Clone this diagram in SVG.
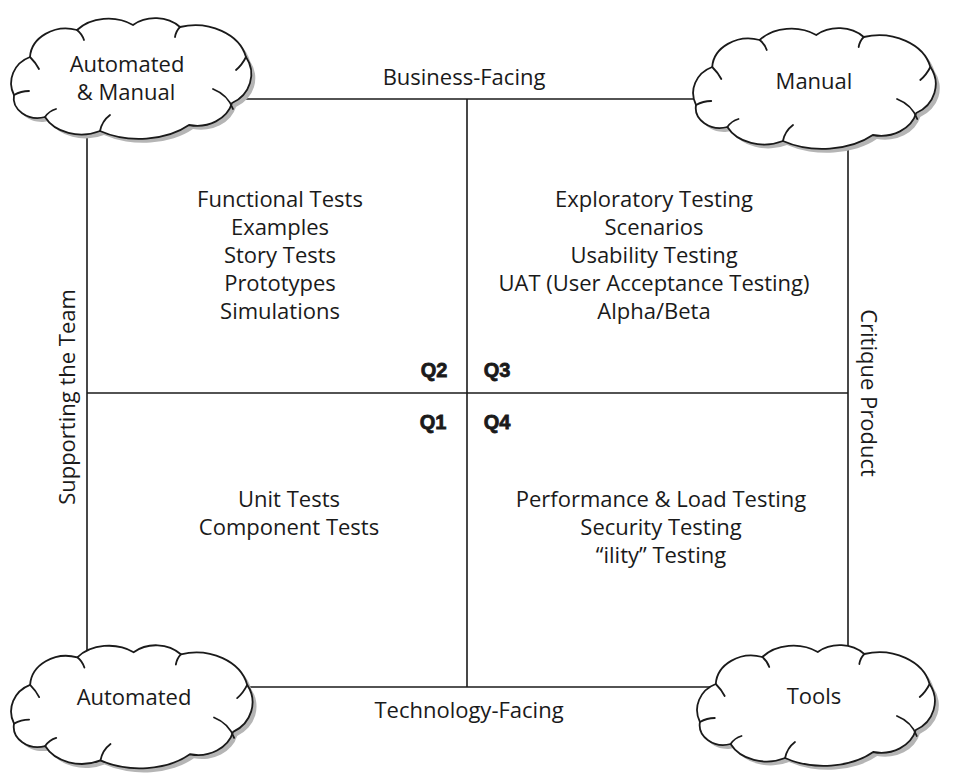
<svg xmlns="http://www.w3.org/2000/svg" width="956" height="778" viewBox="0 0 956 778">
<style>
.ln{stroke:#1a1a1a;stroke-width:1.6;fill:none}
.cl{fill:#fff;stroke:#1a1a1a;stroke-width:1.8;stroke-linejoin:round}
.sh{fill:#b5b5b5}
.im{fill:none;stroke:#1a1a1a;stroke-width:1.8;stroke-linecap:round}
.t{font-family:"Open Sans","Noto Sans",sans-serif;font-size:22px;fill:#1a1a1a;text-anchor:middle}
.q{font-family:"Liberation Sans",Arial,sans-serif;font-weight:900;font-size:20px;fill:#1a1a1a;text-anchor:middle;stroke:#1a1a1a;stroke-width:0.8}
</style>
<defs>
<path id="cloudP" d="M22,44 A36 30 0 0 1 69,17 A40 30 0 0 1 125,12 A34 28 0 0 1 172,14 A52 40 0 0 1 238,44 A34 32 0 0 1 224,90 A36 30 0 0 1 181,112 A66 40 0 0 1 92,118 A40 30 0 0 1 37,104 A24 20 0 0 1 6,82 A30 28 0 0 1 22,44 Z"/>
<g id="cloud">
<use href="#cloudP" class="sh" transform="translate(4,4)"/>
<use href="#cloudP" class="cl"/>
<path class="im" d="M22,44 Q28,50 31,56"/>
<path class="im" d="M69,17 Q74,21 76,27"/>
<path class="im" d="M172,14 Q168,18 167,24"/>
<path class="im" d="M238,44 Q234,52 228,57"/>
<path class="im" d="M205,76 Q220,82 225,96"/>
<path class="im" d="M92,118 Q94,108 102,102"/>
<path class="im" d="M37,104 Q41,98 48,96"/>
<path class="im" d="M6,82 Q13,78 21,78"/>
</g>
</defs>
<g id="connectors">
<line class="ln" x1="87" y1="130" x2="87" y2="655"/>
<line class="ln" x1="240" y1="99" x2="705" y2="99"/>
<line class="ln" x1="848" y1="140" x2="848" y2="655"/>
<line class="ln" x1="230" y1="687" x2="710" y2="687"/>
<line class="ln" x1="467" y1="99" x2="467" y2="687"/>
<line class="ln" x1="87" y1="393" x2="848" y2="393"/>
</g>
<g id="cloud-tl"><use href="#cloud" transform="translate(8,13)"/><text class="t" x="127" y="72">Automated</text><text class="t" x="126" y="100">&amp; Manual</text></g>
<g id="cloud-tr"><use href="#cloud" transform="translate(690,23) scale(1.01,1)"/><text class="t" x="814" y="89">Manual</text></g>
<g id="cloud-bl"><use href="#cloud" transform="translate(8,640) scale(1.005,1.02)"/><text class="t" x="134" y="705">Automated</text></g>
<g id="cloud-br"><use href="#cloud" transform="translate(694,640) scale(0.99,1)"/><text class="t" x="814" y="704">Tools</text></g>
<g id="axis-labels">
<text class="t" x="464" y="85">Business-Facing</text>
<text class="t" x="469" y="718">Technology-Facing</text>
<text class="t" transform="translate(75,397) rotate(-90)">Supporting the Team</text>
<text class="t" transform="translate(861,393) rotate(90)">Critique Product</text>
</g>
<g id="q2"><text class="t" x="280" y="207">Functional Tests</text><text class="t" x="280" y="235">Examples</text><text class="t" x="280" y="263">Story Tests</text><text class="t" x="280" y="291">Prototypes</text><text class="t" x="280" y="319">Simulations</text><text class="q" x="434" y="377">Q2</text></g>
<g id="q3"><text class="t" x="654" y="207">Exploratory Testing</text><text class="t" x="654" y="235">Scenarios</text><text class="t" x="654" y="263">Usability Testing</text><text class="t" x="654" y="291">UAT (User Acceptance Testing)</text><text class="t" x="654" y="319">Alpha/Beta</text><text class="q" x="497" y="377">Q3</text></g>
<g id="q1"><text class="t" x="289" y="507">Unit Tests</text><text class="t" x="289" y="535">Component Tests</text><text class="q" x="433" y="429">Q1</text></g>
<g id="q4"><text class="t" x="661" y="507">Performance &amp; Load Testing</text><text class="t" x="661" y="535">Security Testing</text><text class="t" x="661" y="563">“ility” Testing</text><text class="q" x="497" y="429">Q4</text></g>
</svg>
